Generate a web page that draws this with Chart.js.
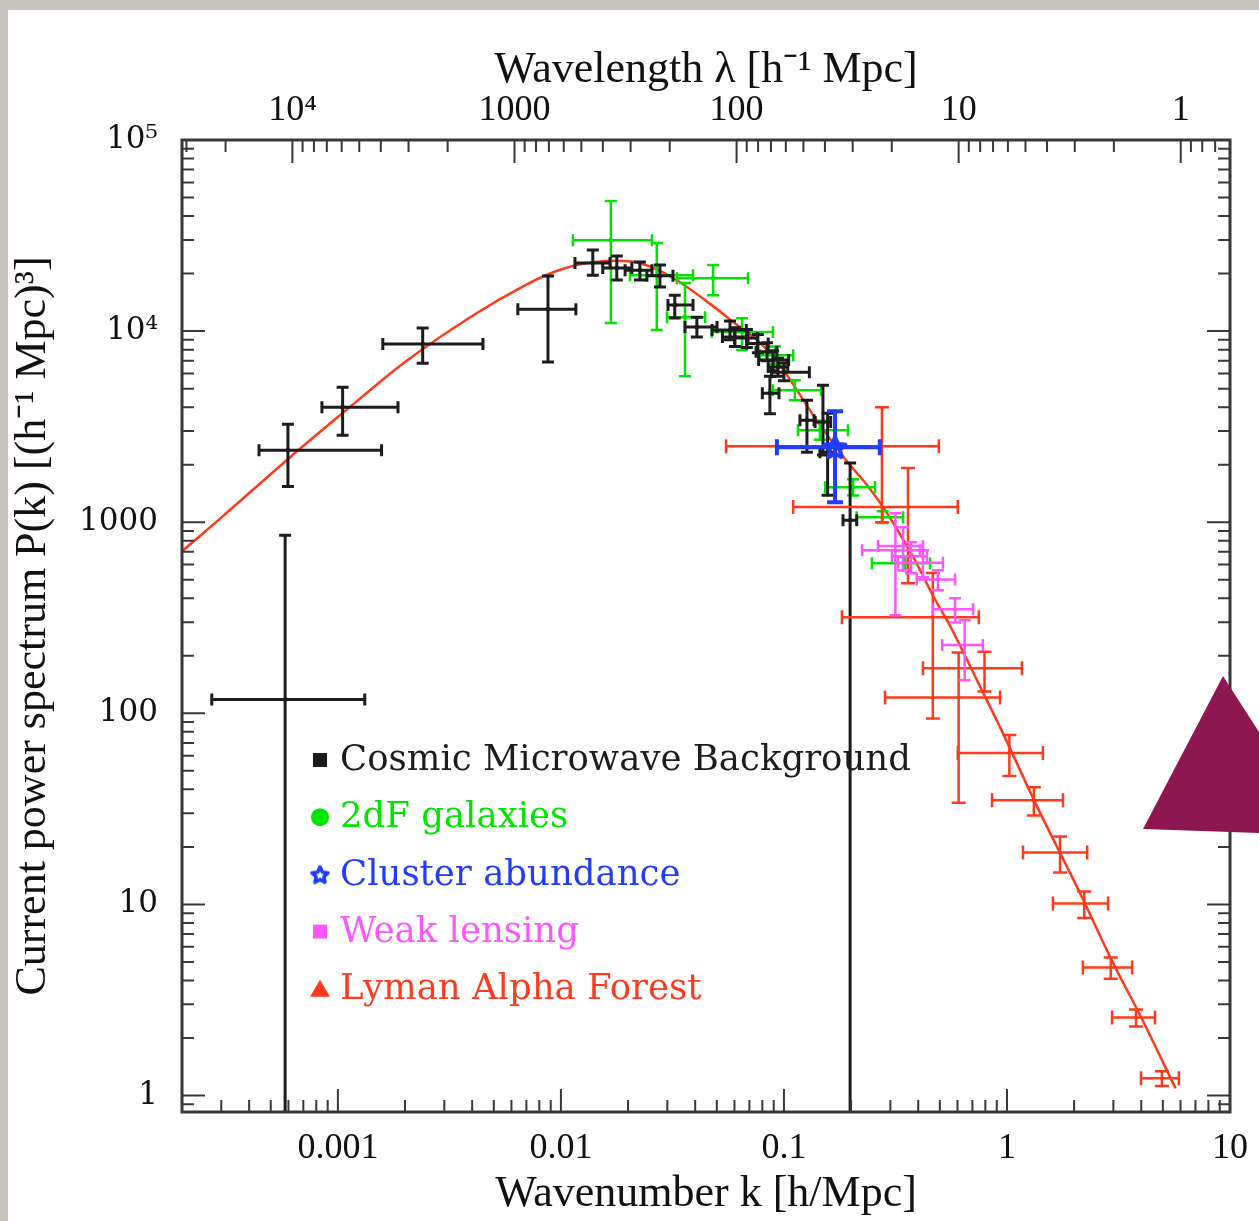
<!DOCTYPE html>
<html>
<head>
<meta charset="utf-8">
<title>Current power spectrum P(k)</title>
<script src="https://cdn.jsdelivr.net/npm/chart.js@4.4.1/dist/chart.umd.min.js"></script>
<style>
  html, body { margin: 0; padding: 0; }
  body { width: 1259px; height: 1221px; background: #c8c4be; position: relative; overflow: hidden; }
  #sheet { position: absolute; left: 8px; top: 10px; right: 0; bottom: 0; background: #fff; }
  #wrap { position: absolute; left: 0; top: 0; width: 1259px; height: 1221px; }
  #corner { position: absolute; left: 1143px; top: 676px; width: 116px; height: 157px; background: #8f1751;
            clip-path: polygon(80px 0, 116px 56px, 116px 157px, 0 153px); }
</style>
</head>
<body>
<div id="sheet"></div>
<div id="wrap"><canvas id="pkChart"></canvas></div>
<div id="corner"></div>
<script>
// axis ranges and tick labels
var kMin = 2e-4, kMax = 10, pMin = 0.82, pMax = 1e5;
var kTicks = [0.001, 0.01, 0.1, 1, 10];
var kTickLabels = ['0.001', '0.01', '0.1', '1', '10'];
var lambdaTicks = [1e4, 1000, 100, 10, 1];
var lambdaTickLabels = ['10\u2074', '1000', '100', '10', '1'];
var pTicks = [1, 10, 100, 1000, 1e4, 1e5];
var pTickLabels = ['1', '10', '100', '1000', '10\u2074', '10\u2075'];

// model curve
var curveK = [2.0e-4, 3.0e-4, 6.0e-4, 1.0e-3, 2.0e-3, 4.0e-3, 7.0e-3, 0.010, 0.014, 0.020, 0.025, 0.033, 0.047, 0.059, 0.078, 0.10, 0.14, 0.19, 0.24, 0.29, 0.38, 0.47, 0.56, 0.76, 0.96, 1.37, 2.1, 3.0, 4.0, 5.7];
var curveP = [705, 1057, 2150, 3550, 6900, 12000, 17500, 21000, 22900, 23200, 21800, 18500, 13800, 11200, 8700, 6200, 3420, 2110, 1525, 1115, 656, 405, 282, 137, 78.5, 32.2, 11.8, 4.9, 2.56, 1.09];

// Cosmic Microwave Background
var cmbK   = [5.8e-4, 5.97e-4, 1.05e-3, 2.40e-3, 8.75e-3, 0.0139, 0.0178, 0.0226, 0.0278, 0.0324, 0.0407, 0.0573, 0.0603, 0.0682, 0.0764, 0.0840, 0.0893, 0.0940, 0.1000, 0.0865, 0.1268, 0.1496, 0.157, 0.198];
var cmbKLo = [2.72e-4, 4.43e-4, 8.48e-4, 1.59e-3, 6.41e-3, 0.01156, 0.0154, 0.0194, 0.0243, 0.0302, 0.0360, 0.0476, 0.0530, 0.0600, 0.0680, 0.0750, 0.0770, 0.0850, 0.0880, 0.0800, 0.118, 0.138, 0.145, 0.184];
var cmbKHi = [1.32e-3, 1.57e-3, 1.86e-3, 4.47e-3, 0.01167, 0.0166, 0.0208, 0.0256, 0.0318, 0.0391, 0.0501, 0.0678, 0.0690, 0.0760, 0.0850, 0.0930, 0.1050, 0.1040, 0.1300, 0.0950, 0.1365, 0.162, 0.170, 0.212];
var cmbP   = [118, 2380, 4000, 8550, 13030, 22700, 21400, 20840, 19500, 13690, 10500, 10120, 9310, 9190, 8600, 7800, 7050, 6490, 6100, 4730, 3420, 3340, 2320, 1024];
var cmbPLo = [0, 1540, 2850, 6790, 6890, 19630, 18500, 18500, 17000, 11700, 9310, 9000, 8300, 8200, 7700, 7000, 6200, 5800, 5500, 3700, 2320, 2245, 1385, 0];
var cmbPHi = [855, 3260, 5090, 10380, 19410, 26550, 24700, 22960, 22200, 15420, 11830, 11300, 10400, 10200, 9600, 8700, 7900, 7200, 6800, 5800, 4350, 5210, 3720, 2040];

// 2dF galaxies
var galK   = [0.01675, 0.0269, 0.0481, 0.0360, 0.0649, 0.0912, 0.1119, 0.145, 0.204, 0.277, 0.350];
var galKLo = [0.01132, 0.0204, 0.0331, 0.0299, 0.0475, 0.078, 0.0893, 0.1155, 0.153, 0.212, 0.248];
var galKHi = [0.0256, 0.0391, 0.0690, 0.0443, 0.0893, 0.110, 0.147, 0.1937, 0.256, 0.342, 0.452];
var galP   = [29900, 19630, 18930, 11830, 9890, 7480, 4910, 3030, 1525, 1062, 610];
var galPLo = [11010, 10120, 15420, 5800, 7960, 6700, 4350, 2700, 1380, 990, 560];
var galPHi = [47970, 28900, 22190, 17830, 11690, 8300, 5530, 3400, 1680, 1140, 660];

// Cluster abundance
var cluK   = [0.1695];
var cluKLo = [0.093];
var cluKHi = [0.269];
var cluP   = [2470];
var cluPLo = [1273];
var cluPHi = [3810];

// Weak lensing
var wlK   = [0.316, 0.342, 0.371, 0.420, 0.490, 0.585, 0.646];
var wlKLo = [0.224, 0.264, 0.305, 0.325, 0.394, 0.466, 0.512];
var wlKHi = [0.407, 0.420, 0.438, 0.516, 0.585, 0.705, 0.780];
var wlP   = [713, 750, 663, 614, 501, 350, 228];
var wlPLo = [326, 561, 541, 515, 441, 299, 149];
var wlPHi = [1115, 942, 785, 713, 561, 400, 307];

// Lyman Alpha Forest
var lyaK   = [0.275, 0.360, 0.465, 0.793, 0.607, 1.025, 1.32, 1.73, 2.22, 2.92, 3.79, 4.95];
var lyaKLo = [0.055, 0.110, 0.182, 0.420, 0.284, 0.602, 0.857, 1.18, 1.607, 2.19, 2.96, 3.99];
var lyaKHi = [0.495, 0.602, 0.748, 1.167, 0.931, 1.449, 1.783, 2.29, 2.84, 3.64, 4.61, 5.90];
var lyaP   = [2500, 1200, 318, 172, 121, 62, 35.1, 18.7, 10.1, 4.68, 2.56, 1.23];
var lyaPLo = [1000, 480, 94, 130, 34, 47, 29.2, 14.7, 8.5, 4.08, 2.30, 1.12];
var lyaPHi = [4000, 1920, 542, 210, 208, 77, 41.0, 22.7, 11.7, 5.28, 2.82, 1.34];

var cBlack = '#1c1c1c', cGreen = '#00e400', cBlue = '#1f3cff', cPink = '#ff55ff', cRed = '#ff3a1c';

function pts(ks, ps) {
	return ks.map(function (k, i) { return {x: k, y: ps[i]}; });
}

function makeStar(size, color, lw) {
	var c = document.createElement('canvas');
	c.width = size; c.height = size;
	var g = c.getContext('2d');
	var cx = size / 2, cy = size / 2 + 1, R = size / 2 - lw, r = R * 0.48;
	g.beginPath();
	for (var i = 0; i < 10; i++) {
		var a = -Math.PI / 2 + i * Math.PI / 5;
		var rr = i % 2 ? r : R;
		g.lineTo(cx + rr * Math.cos(a), cy + rr * Math.sin(a));
	}
	g.closePath();
	g.strokeStyle = color; g.lineWidth = lw; g.lineJoin = 'round';
	g.stroke();
	return c;
}
var bigStar = makeStar(30, cBlue, 4);
var smallStar = makeStar(24, cBlue, 3.5);

// error bars, drawn right after their own dataset
var errorBars = {
	id: 'errorBars',
	afterDatasetDraw: function (chart, args) {
		var ds = chart.data.datasets[args.index];
		if (!ds.err) return;
		var xs = chart.scales.x, ys = chart.scales.y, ctx = chart.ctx, a = chart.chartArea;
		ctx.save();
		ctx.beginPath();
		ctx.rect(a.left, a.top, a.right - a.left, a.bottom - a.top);
		ctx.clip();
		ctx.strokeStyle = ds.borderColor;
		ctx.lineWidth = ds.errWidth;
		var c = ds.cap;
		ds.data.forEach(function (p, i) {
			var x = xs.getPixelForValue(p.x), y = ys.getPixelForValue(p.y);
			var x0 = xs.getPixelForValue(ds.err.kLo[i]), x1 = xs.getPixelForValue(ds.err.kHi[i]);
			var lo = ds.err.pLo[i];
			var y0 = lo > 0 ? ys.getPixelForValue(lo) : a.bottom + 10;
			var y1 = ys.getPixelForValue(ds.err.pHi[i]);
			ctx.beginPath();
			ctx.moveTo(x0, y); ctx.lineTo(x1, y);
			ctx.moveTo(x, y0); ctx.lineTo(x, y1);
			ctx.moveTo(x0, y - c); ctx.lineTo(x0, y + c);
			ctx.moveTo(x1, y - c); ctx.lineTo(x1, y + c);
			ctx.moveTo(x - c, y1); ctx.lineTo(x + c, y1);
			if (lo > 0) { ctx.moveTo(x - c, y0); ctx.lineTo(x + c, y0); }
			ctx.stroke();
		});
		ctx.restore();
	}
};

// box and inward tick marks on all four sides
var frameTicks = {
	id: 'frameTicks',
	afterDatasetsDraw: function (chart) {
		var a = chart.chartArea, ctx = chart.ctx;
		var xs = chart.scales.x, x2 = chart.scales.x2, ys = chart.scales.y;
		var big = 23, small = 12;
		ctx.save();
		ctx.strokeStyle = '#383838';
		ctx.lineWidth = 2;
		ctx.beginPath();
		for (var d = -5; d <= 5; d++) {
			for (var m = 1; m <= 9; m++) {
				var v = m * Math.pow(10, d);
				var len = m === 1 ? big : small;
				if (v >= kMin && v <= kMax) {
					var px = xs.getPixelForValue(v);
					ctx.moveTo(px, a.bottom); ctx.lineTo(px, a.bottom - len);
				}
				if (v >= x2.min && v <= x2.max) {
					var qx = x2.getPixelForValue(v);
					ctx.moveTo(qx, a.top); ctx.lineTo(qx, a.top + len);
				}
				if (v >= pMin && v <= pMax) {
					var py = ys.getPixelForValue(v);
					ctx.moveTo(a.left, py); ctx.lineTo(a.left + len, py);
					ctx.moveTo(a.right, py); ctx.lineTo(a.right - len, py);
				}
			}
		}
		ctx.stroke();
		ctx.lineWidth = 3;
		ctx.strokeRect(a.left, a.top, a.right - a.left, a.bottom - a.top);
		ctx.restore();
	}
};

// legend inside the plot
var legendRows = [
	{text: 'Cosmic Microwave Background', color: cBlack, mark: 'square'},
	{text: '2dF galaxies', color: cGreen, mark: 'circle'},
	{text: 'Cluster abundance', color: cBlue, mark: 'star'},
	{text: 'Weak lensing', color: cPink, mark: 'square'},
	{text: 'Lyman Alpha Forest', color: cRed, mark: 'triangle'}
];
var insideLegend = {
	id: 'insideLegend',
	afterDraw: function (chart) {
		var ctx = chart.ctx;
		ctx.save();
		ctx.font = '35.5px "DejaVu Serif"';
		ctx.textBaseline = 'middle';
		legendRows.forEach(function (r, i) {
			var y = 760 + i * 57.2, mx = 320;
			ctx.fillStyle = r.color;
			if (r.mark === 'square') ctx.fillRect(mx - 7, y - 7, 14, 14);
			if (r.mark === 'circle') { ctx.beginPath(); ctx.arc(mx, y, 9, 0, Math.PI * 2); ctx.fill(); }
			if (r.mark === 'star') ctx.drawImage(smallStar, mx - 12, y - 12);
			if (r.mark === 'triangle') { ctx.beginPath(); ctx.moveTo(mx, y - 9); ctx.lineTo(mx + 10, y + 8); ctx.lineTo(mx - 10, y + 8); ctx.closePath(); ctx.fill(); }
			ctx.fillText(r.text, 340, y + 1);
		});
		ctx.restore();
	}
};

// keep the plot box where it is, labels may hang over the edges
function noScalePadding(s) {
	s.paddingLeft = 0; s.paddingRight = 0; s.paddingTop = 0; s.paddingBottom = 0;
}

var titleFont = {family: '"Liberation Serif", serif', size: 44, lineHeight: 1};

var ctx = document.getElementById('pkChart').getContext('2d');
var pkChart = new Chart(ctx, {
	type: 'scatter',
	data: {
		datasets: [
			{label: 'model', data: pts(curveK, curveP), showLine: true, borderColor: cRed, borderWidth: 2.5, pointRadius: 0, tension: 0.3, order: 6},
			{label: '2dF galaxies', data: pts(galK, galP), borderColor: cGreen, backgroundColor: cGreen, pointRadius: 2,
				err: {kLo: galKLo, kHi: galKHi, pLo: galPLo, pHi: galPHi}, errWidth: 2.5, cap: 6, order: 5},
			{label: 'Cosmic Microwave Background', data: pts(cmbK, cmbP), borderColor: cBlack, backgroundColor: cBlack, pointRadius: 2,
				err: {kLo: cmbKLo, kHi: cmbKHi, pLo: cmbPLo, pHi: cmbPHi}, errWidth: 3, cap: 6, order: 4},
			{label: 'Lyman Alpha Forest', data: pts(lyaK, lyaP), borderColor: cRed, backgroundColor: cRed, pointRadius: 1.5,
				err: {kLo: lyaKLo, kHi: lyaKHi, pLo: lyaPLo, pHi: lyaPHi}, errWidth: 2.5, cap: 7, order: 3},
			{label: 'Weak lensing', data: pts(wlK, wlP), borderColor: cPink, backgroundColor: cPink, pointRadius: 1.5,
				err: {kLo: wlKLo, kHi: wlKHi, pLo: wlPLo, pHi: wlPHi}, errWidth: 2.5, cap: 6, order: 2},
			{label: 'Cluster abundance', data: pts(cluK, cluP), borderColor: cBlue, backgroundColor: cBlue, pointStyle: bigStar,
				err: {kLo: cluKLo, kHi: cluKHi, pLo: cluPLo, pHi: cluPHi}, errWidth: 4, cap: 8, order: 1}
		]
	},
	options: {
		responsive: true,
		maintainAspectRatio: false,
		devicePixelRatio: 1,
		animation: false,
		events: [],
		layout: {padding: {left: 0, right: 29, top: 0, bottom: 0}},
		plugins: {legend: {display: false}, tooltip: {enabled: false}},
		scales: {
			x: {
				type: 'logarithmic', position: 'bottom', min: kMin, max: kMax,
				grid: {display: false, drawTicks: false}, border: {display: false},
				afterBuildTicks: function (s) { s.ticks = kTicks.map(function (v) { return {value: v}; }); },
				afterFit: function (s) { s.height = 109; noScalePadding(s); },
				ticks: {autoSkip: false, maxRotation: 0, padding: 19, color: '#111',
					font: {family: '"Liberation Serif", serif', size: 36, lineHeight: 1},
					callback: function (v, i) { return kTickLabels[i]; }},
				title: {display: true, text: 'Wavenumber k [h/Mpc]', color: '#111', font: titleFont, padding: {top: 0, bottom: 5}}
			},
			x2: {
				type: 'logarithmic', axis: 'x', position: 'top', reverse: true,
				min: 2 * Math.PI / kMax, max: 2 * Math.PI / kMin,
				grid: {display: false, drawTicks: false}, border: {display: false},
				afterBuildTicks: function (s) { s.ticks = lambdaTicks.map(function (v) { return {value: v}; }); },
				afterFit: function (s) { s.height = 140; noScalePadding(s); },
				ticks: {autoSkip: false, maxRotation: 0, padding: 11, color: '#111',
					font: {family: '"Liberation Serif", serif', size: 36, lineHeight: 1},
					callback: function (v, i) { return lambdaTickLabels[i]; }},
				title: {display: true, text: 'Wavelength \u03bb [h\u207b\u00b9 Mpc]', color: '#111', font: titleFont, padding: {top: 48, bottom: 0}}
			},
			y: {
				type: 'logarithmic', position: 'left', min: pMin, max: pMax,
				grid: {display: false, drawTicks: false}, border: {display: false},
				afterBuildTicks: function (s) { s.ticks = pTicks.map(function (v) { return {value: v}; }); },
				afterFit: function (s) { s.width = 182; noScalePadding(s); },
				ticks: {autoSkip: false, padding: 24, color: '#111',
					font: {family: '"DejaVu Serif", serif', size: 31, lineHeight: 1},
					callback: function (v, i) { return pTickLabels[i]; }},
				title: {display: true, text: 'Current power spectrum P(k) [(h\u207b\u00b9 Mpc)\u00b3]', color: '#111', font: titleFont, padding: {top: 11, bottom: 0}}
			}
		}
	},
	plugins: [errorBars, frameTicks, insideLegend]
});
</script>
</body>
</html>
